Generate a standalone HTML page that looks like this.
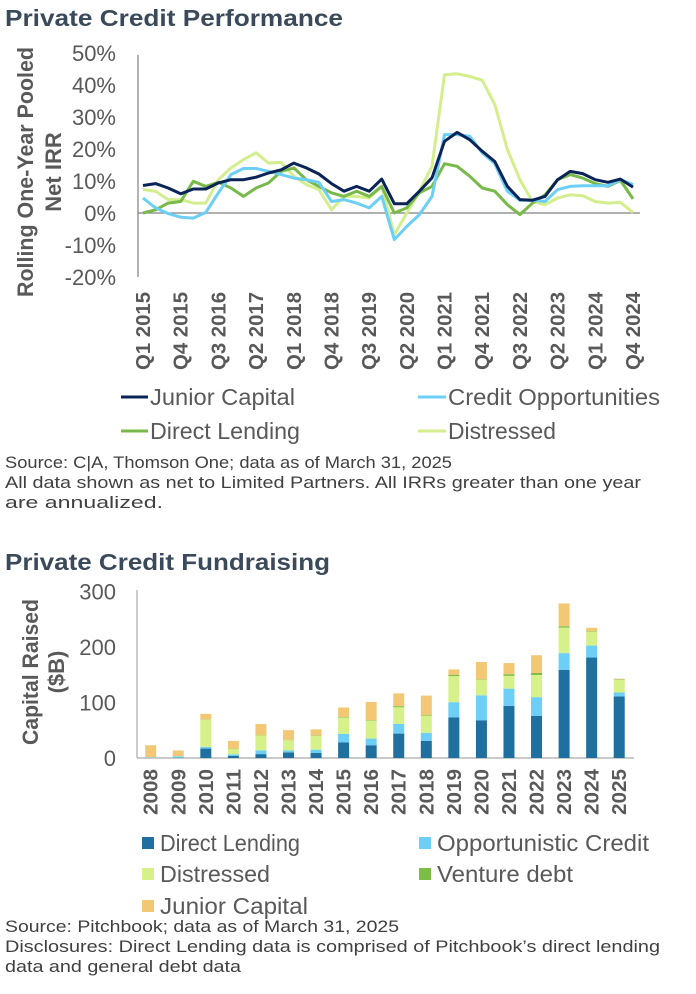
<!DOCTYPE html>
<html><head><meta charset="utf-8">
<style>
html,body{margin:0;padding:0;background:#fff;}
svg{display:block;font-family:"Liberation Sans",sans-serif;}
.t{font-family:"Liberation Sans",sans-serif;font-weight:bold;fill:#3b4a5a;}
.tick{fill:#595959;font-size:22px;}
.xl{fill:#595959;font-size:20px;font-weight:bold;font-family:"Liberation Sans",sans-serif;}
.yt{fill:#595959;font-size:22px;font-weight:bold;font-family:"Liberation Sans",sans-serif;}
.lg{fill:#595959;font-size:23px;}
.src{fill:#404040;font-size:17px;}
</style></head><body>
<svg id="s" width="696" height="994" viewBox="0 0 696 994">
<text class="t" x="5" y="26" font-size="23" textLength="338" lengthAdjust="spacingAndGlyphs">Private Credit Performance</text>
<g id="topc"></g>
<g>
 <line x1="121" y1="397" x2="148" y2="397" stroke="#0a2458" stroke-width="3"/>
 <text class="lg" x="150" y="405" textLength="145" lengthAdjust="spacingAndGlyphs">Junior Capital</text>
 <line x1="418" y1="397" x2="446" y2="397" stroke="#6ccff6" stroke-width="3"/>
 <text class="lg" x="448" y="405" textLength="212" lengthAdjust="spacingAndGlyphs">Credit Opportunities</text>
 <line x1="121" y1="431" x2="148" y2="431" stroke="#78b94a" stroke-width="3"/>
 <text class="lg" x="150" y="439" textLength="150" lengthAdjust="spacingAndGlyphs">Direct Lending</text>
 <line x1="418" y1="431" x2="446" y2="431" stroke="#d4ee8e" stroke-width="3"/>
 <text class="lg" x="448" y="439" textLength="108" lengthAdjust="spacingAndGlyphs">Distressed</text>
</g>
<g>
 <text class="src" x="5" y="468" textLength="447" lengthAdjust="spacingAndGlyphs">Source: C|A, Thomson One; data as of March 31, 2025</text>
 <text class="src" x="5" y="488" textLength="636" lengthAdjust="spacingAndGlyphs">All data shown as net to Limited Partners. All IRRs greater than one year</text>
 <text class="src" x="5" y="508" textLength="158" lengthAdjust="spacingAndGlyphs">are annualized.</text>
</g>
<text class="t" x="5" y="570" font-size="23" textLength="325" lengthAdjust="spacingAndGlyphs">Private Credit Fundraising</text>
<g id="botc"></g>
<g id="blg"></g>
<g>
 <text class="src" x="5" y="932" textLength="394" lengthAdjust="spacingAndGlyphs">Source: Pitchbook; data as of March 31, 2025</text>
 <text class="src" x="5" y="952" textLength="655" lengthAdjust="spacingAndGlyphs">Disclosures: Direct Lending data is comprised of Pitchbook’s direct lending</text>
 <text class="src" x="5" y="972" textLength="236" lengthAdjust="spacingAndGlyphs">data and general debt data</text>
</g>
</svg>
<script>
var quarters=["Q1 2015","Q2 2015","Q3 2015","Q4 2015","Q1 2016","Q2 2016","Q3 2016","Q4 2016","Q1 2017","Q2 2017","Q3 2017","Q4 2017","Q1 2018","Q2 2018","Q3 2018","Q4 2018","Q1 2019","Q2 2019","Q3 2019","Q4 2019","Q1 2020","Q2 2020","Q3 2020","Q4 2020","Q1 2021","Q2 2021","Q3 2021","Q4 2021","Q1 2022","Q2 2022","Q3 2022","Q4 2022","Q1 2023","Q2 2023","Q3 2023","Q4 2023","Q1 2024","Q2 2024","Q3 2024","Q4 2024"];
var juniorCapital=[8.6,9.2,7.8,6.0,7.5,7.5,9.4,10.4,10.4,11.2,12.5,13.5,15.6,14.1,12.2,9.2,6.8,8.3,6.8,10.6,2.9,2.9,6.8,11.0,22.4,25.2,22.9,19.3,16.1,8.3,4.2,4.0,5.2,10.4,13.0,12.3,10.4,9.6,10.6,8.1];
var creditOpportunities=[4.7,1.6,-0.2,-1.3,-1.6,0.2,6.3,12.0,13.9,13.9,13.0,12.0,10.9,10.4,9.6,3.6,4.2,3.1,1.6,5.2,-8.3,-4.2,-0.5,5.2,24.5,24.5,24.0,18.8,15.4,6.8,4.0,4.0,3.6,7.3,8.3,8.5,8.5,8.5,10.4,8.9];
var directLending=[0,1.0,3.1,3.6,9.9,8.3,9.6,7.8,5.2,7.8,9.4,13.0,14.1,10.4,8.3,6.3,5.2,6.8,5.2,8.3,0,1.6,6.3,8.3,15.4,14.6,11.5,7.8,6.8,2.6,-0.5,3.1,5.7,10.4,12.0,10.9,9.2,8.3,10.2,4.4];
var distressed=[7.3,6.8,4.2,4.2,3.1,3.1,10.4,14.1,16.7,18.8,15.6,15.8,11.5,8.9,7.3,1.0,5.2,5.2,4.7,8.3,-6.8,0,6.8,14.6,43.2,43.5,42.7,41.5,33.9,19.8,10.4,3.6,2.6,4.7,5.7,5.4,3.6,3.1,3.3,0.2];
var yTicks=[50,40,30,20,10,0,-10,-20];

var years=["2008","2009","2010","2011","2012","2013","2014","2015","2016","2017","2018","2019","2020","2021","2022","2023","2024","2025"];
var fDirectLending=[0,0.5,17,3.6,7,10,9,28,23,44,31,73,68,94,76,159,181,111];
var fOpportunistic=[1,2.5,3,3,6.6,3.6,6,15.6,12,17.4,14.4,27.6,45,31,33.6,30,21.6,7];
var fDistressed=[0,0.5,49,9.6,27,18.6,25,29,32,30,31,47,28,23,40,46,25,23];
var fVenture=[0,0,0.6,0.6,0.6,0.6,0.6,1,1,2,1,2.4,1,3,3.6,2.4,1,1];
var fJunior=[22,10,10,14,20,17.4,11,17.4,33,23,35,9.6,31,20,32,41,6,1];
var bTicks=[0,100,200,300];

(function(){
var NS="http://www.w3.org/2000/svg";
function mk(p,tag,at,txt){var e=document.createElementNS(NS,tag);for(var k in at)e.setAttribute(k,at[k]);if(txt!=null)e.textContent=txt;p.appendChild(e);return e;}

var tc=document.getElementById('topc');
function ty(v){return 213-v*3.2;}
function tx(i){return 143+i*(490/39);}
mk(tc,'line',{x1:138,y1:55,x2:138,y2:277,stroke:'#808080','stroke-width':1.2});
mk(tc,'line',{x1:138,y1:ty(0),x2:640,y2:ty(0),stroke:'#808080','stroke-width':1.2});
yTicks.forEach(function(v){var e=mk(tc,'text',{class:'tick',x:116,y:ty(v)+8,'text-anchor':'end'},v+'%');

});
var yt=mk(tc,'text',{class:'yt','text-anchor':'middle',transform:'translate(33,172) rotate(-90)',textLength:250,lengthAdjust:'spacingAndGlyphs'},'Rolling One-Year Pooled');


mk(tc,'text',{class:'yt','text-anchor':'middle',transform:'translate(61,172) rotate(-90)'},'Net IRR');
quarters.forEach(function(q,i){if(i%3!==0)return;var x=tx(i);
var e=mk(tc,'text',{class:'xl','text-anchor':'end',transform:'translate('+(x+7)+',292) rotate(-90)',textLength:78,lengthAdjust:'spacingAndGlyphs'},q);

});
[[distressed,'#d4ee8e','line-distressed'],[directLending,'#78b94a','line-direct-lending'],[creditOpportunities,'#6ccff6','line-credit-opportunities'],[juniorCapital,'#0a2458','line-junior-capital']].forEach(function(s){
var pts=s[0].map(function(v,i){return tx(i).toFixed(1)+','+ty(v).toFixed(1);}).join(' ');
var e=mk(tc,'polyline',{points:pts,fill:'none',stroke:s[1],'stroke-width':3,'stroke-linejoin':'round'});

});

var bc=document.getElementById('botc');
function by(v){return 758-v*0.555;}
function bx(i){return 150.7+i*27.56;}
mk(bc,'line',{x1:137,y1:590,x2:137,y2:758,stroke:'#aaaaaa','stroke-width':1.2});
mk(bc,'line',{x1:137,y1:758,x2:634,y2:758,stroke:'#aaaaaa','stroke-width':1.2});
bTicks.forEach(function(v){var e=mk(bc,'text',{class:'tick',x:116,y:by(v)+8,'text-anchor':'end'},String(v));

});
var t2=mk(bc,'text',{class:'yt','text-anchor':'middle',transform:'translate(38,672) rotate(-90)',textLength:146,lengthAdjust:'spacingAndGlyphs'},'Capital Raised');


mk(bc,'text',{class:'yt','text-anchor':'middle',transform:'translate(64,672) rotate(-90)'},'($B)');
var series=[[fDirectLending,'#1f6f9f','direct-lending'],[fOpportunistic,'#6dcff6','opportunistic-credit'],[fDistressed,'#d6f08a','distressed'],[fVenture,'#7cbd45','venture-debt'],[fJunior,'#f2c875','junior-capital']];
years.forEach(function(yr,i){var base=0;
series.forEach(function(s){var v=s[0][i];if(v<=0)return;
var r=mk(bc,'rect',{x:bx(i)-5.5,y:by(base+v),width:11,height:v*0.555,fill:s[1]});


base+=v;});
var e=mk(bc,'text',{class:'xl','font-size':'18','text-anchor':'end',transform:'translate('+(bx(i)+7)+',769) rotate(-90)',textLength:46,lengthAdjust:'spacingAndGlyphs'},yr);

});

var blg=document.getElementById('blg');
[['Direct Lending','#1f6f9f',142,843,140],['Opportunistic Credit','#6dcff6',419,843,212],['Distressed','#d6f08a',142,874,110],['Venture debt','#7cbd45',419,874,136],['Junior Capital','#f2c875',142,906,148]].forEach(function(l){
mk(blg,'rect',{x:l[2],y:l[3]-6,width:12,height:12,fill:l[1]});
var e=mk(blg,'text',{class:'lg',x:l[2]+18,y:l[3]+8,textLength:l[4],lengthAdjust:'spacingAndGlyphs'},l[0]);

});
})();
</script>
</body></html>
